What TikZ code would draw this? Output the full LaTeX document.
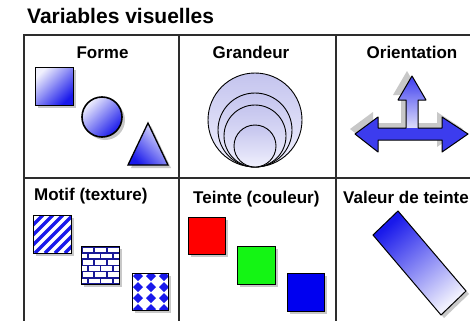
\documentclass[tikz,border=0pt]{standalone}
\usepackage{fontspec}
\setmainfont{Liberation Sans}
\usetikzlibrary{positioning}

\definecolor{gridgray}{RGB}{45,45,45}
\definecolor{shapeblue}{RGB}{25,25,235}
\definecolor{paleblue}{RGB}{240,240,253}
\definecolor{lavender}{RGB}{196,196,238}
\definecolor{shadowgray}{RGB}{200,200,200}
\definecolor{brickblue}{RGB}{25,25,150}

\begin{document}
\begin{tikzpicture}[x=1pt, y=-1pt,
    every node/.style={inner sep=0pt, font=\bfseries\fontsize{17}{19}\selectfont},
    titre/.style={font=\bfseries\fontsize{21}{24}\selectfont},
    gridline/.style={gridgray, line width=1.4pt},
    outline/.style={draw=black, line width=1pt},
    dropshade/.style={fill=shadowgray, xshift=3pt, yshift=-3pt},
    diagshade/.style={top color=paleblue, bottom color=shapeblue, shading angle=45}
]
    \useasboundingbox[fill=white] (0,0) rectangle (470,321);

    % table
    \draw[gridline] (470,35) -- (24,35) -- (24,321);
    \draw[gridline] (24,178) -- (470,178);
    \draw[gridline] (179,35) -- (179,321);
    \draw[gridline] (336,35) -- (336,321);

    \node[titre, anchor=base west] (title) at (27,24) {Variables visuelles};

    \node[anchor=base] (forme) at (102.5,58) {Forme};
    \node[anchor=base] (grandeur) at (251,58) {Grandeur};
    \node[anchor=base] (orient) at (412,58) {Orientation};
    \node[anchor=base west] (motif) at (34,200) {Motif (texture)};
    \node[anchor=base west] (teinte) at (193,203) {Teinte (couleur)};
    \node[anchor=base west] (valeur) at (343,203) {Valeur de teinte};

    % Forme
    \fill[dropshade] (35,67) rectangle (73,105);
    \path[outline, diagshade] (35,67) rectangle (73,105);
    \fill[dropshade] (102,117) circle (20pt);
    \path[outline, diagshade, line width=1.6pt] (102,117) circle (20pt);
    \fill[dropshade] (128,165) -- (148,123) -- (168,165) -- cycle;
    \path[outline, top color=paleblue, bottom color=shapeblue, shading angle=-45, line width=1.3pt]
        (128,165) -- (148,123) -- (168,165) -- cycle;

    % Grandeur
    \foreach \r in {47,37,31,21} {
        \path[draw=black, line width=0.9pt, top color=lavender, bottom color=paleblue]
            (255,{167-\r}) circle (\r pt);
    }

    % Orientation
    \fill[shadowgray, xshift=-5pt, yshift=5pt]
        (412,76) -- (426,100) -- (418,100) -- (418,128) -- (442,128) -- (442,117)
        -- (468,134) -- (442,152) -- (442,140) -- (378,140) -- (378,152) -- (355,134)
        -- (378,117) -- (378,128) -- (406,128) -- (406,100) -- (398,100) -- cycle;
    \shade[top color=shapeblue!85, bottom color=paleblue]
        (412,76) -- (426,100) -- (418,100) -- (418,134) -- (406,134) -- (406,100) -- (398,100) -- cycle;
    \shade[left color=shapeblue!85, middle color=paleblue, right color=shapeblue!85]
        (355,134) -- (378,117) -- (378,128) -- (442,128) -- (442,117) -- (468,134)
        -- (442,152) -- (442,140) -- (378,140) -- (378,152) -- cycle;
    \draw[black, line width=1pt, line join=round]
        (412,76) -- (426,100) -- (418,100) -- (418,128) -- (442,128) -- (442,117)
        -- (468,134) -- (442,152) -- (442,140) -- (378,140) -- (378,152) -- (355,134)
        -- (378,117) -- (378,128) -- (406,128) -- (406,100) -- (398,100) -- cycle;

    % Motif
    \fill[dropshade] (33,215) rectangle (71,253);
    \begin{scope}
        \clip (33,215) rectangle (71,253);
        \fill[white] (33,215) rectangle (71,253);
        \foreach \a in {0,10,...,80}
            \draw[shapeblue, line width=3.5pt] ({-5+\a},253) -- ({33+\a},215);
    \end{scope}
    \draw[outline] (33,215) rectangle (71,253);

    \fill[dropshade] (81,246) rectangle (119,284);
    \begin{scope}
        \clip (81,246) rectangle (119,284);
        \fill[brickblue] (81,246) rectangle (119,284);
        \foreach \j in {0,...,5}
            \foreach \i in {-1,...,3} {
                \pgfmathsetmacro\bx{82.5+12.6*\i+6.3*mod(\j,2)}
                \pgfmathsetmacro\by{247.5+6.2*\j}
                \fill[white] (\bx,\by) rectangle ({\bx+10.8},{\by+4.6});
            }
    \end{scope}
    \draw[outline] (81,246) rectangle (119,284);

    \fill[dropshade] (132,273) rectangle (168,310);
    \begin{scope}
        \clip (132,273) rectangle (168,310);
        \fill[white] (132,273) rectangle (168,310);
        \foreach \cx in {138,151,164}
            \foreach \cy in {276,287,298,309}
                \fill[shapeblue] (\cx-5,\cy) -- (\cx,\cy-5) -- (\cx+5,\cy) -- (\cx,\cy+5) -- cycle;
    \end{scope}
    \draw[outline] (132,273) rectangle (168,310);

    % Teinte
    \fill[dropshade] (188,217) rectangle (225,254);
    \draw[outline, fill={rgb,255:red,255;green,0;blue,0}] (188,217) rectangle (225,254);
    \fill[dropshade] (237,246) rectangle (275,284);
    \draw[outline, fill={rgb,255:red,20;green,245;blue,20}] (237,246) rectangle (275,284);
    \fill[dropshade] (287,273) rectangle (324,311);
    \draw[outline, fill={rgb,255:red,0;green,0;blue,240}] (287,273) rectangle (324,311);

    % Valeur de teinte
    \fill[dropshade] (398,211) -- (466,291) -- (441,315) -- (373,235) -- cycle;
    \path[outline, top color=shapeblue, bottom color=paleblue, shading angle=40]
        (398,211) -- (466,291) -- (441,315) -- (373,235) -- cycle;
\end{tikzpicture}
\end{document}
